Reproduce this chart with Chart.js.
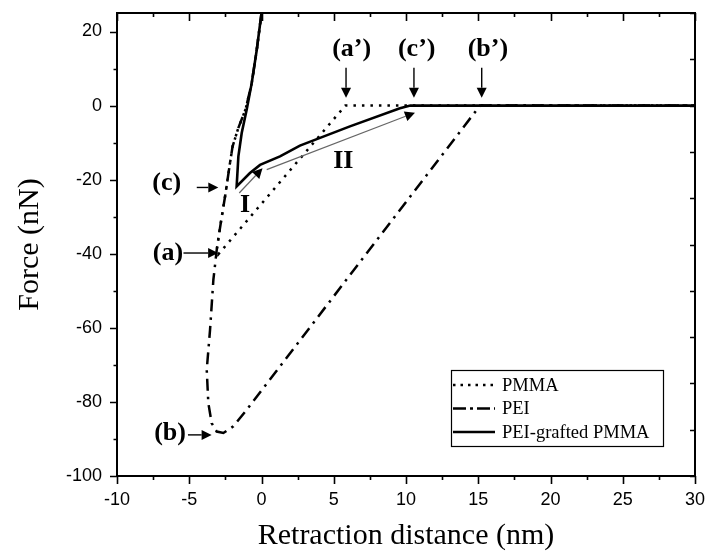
<!DOCTYPE html>
<html>
<head>
<meta charset="utf-8">
<script src="https://cdn.jsdelivr.net/npm/chart.js@4.4.1/dist/chart.umd.min.js"></script>
<style>
  html, body { margin: 0; padding: 0; background: #fff; }
  #wrap { width: 708px; height: 552px; }
</style>
</head>
<body>
<div id="wrap"><canvas id="chart" width="708" height="552"></canvas></div>
<script>
// curve data (nm, nN)
const pmmaX = [0.0, -0.33, -0.68, -1.1, -1.6, -2.0, -2.2, -2.5, -2.75, -2.95, -3.1, -3.0, 5.8, 10.3, 15, 20, 25, 30];
const pmmaY = [25, 15, 6, -1, -6, -11, -16, -24, -30, -35, -39, -40.2, 0, 0, 0, 0, 0, 0];

const peiX = [0.0, -0.33, -0.68, -1.1, -1.6, -2.0, -2.2, -2.5, -2.75, -2.95, -3.1, -3.33, -3.56, -3.79, -3.68, -3.45, -3.1, -2.64, -1.95, -1.02, 15.12, 20, 25, 30];
const peiY = [25, 15, 6, -1, -6, -11, -16, -24, -30, -35, -39, -47, -60.5, -71.3, -80.3, -85.7, -88, -88.4, -86.6, -82.1, 0, 0, 0, 0];

const graftX = [0.0, -0.33, -0.68, -1.02, -1.37, -1.6, -1.72, -0.8, -0.1, 1.28, 2.66, 6.12, 9.58, 10.3, 15, 20, 25, 30];
const graftY = [25, 15, 6, -1, -7.4, -13.7, -21.8, -18.2, -16, -13.7, -10.8, -5.6, -0.7, 0, 0, 0, 0, 0];

const seriesNames = ['PMMA', 'PEI', 'PEI-grafted PMMA'];

// tick labels
const xTickValues = [-10, -5, 0, 5, 10, 15, 20, 25, 30];
const yTickValues = [-100, -80, -60, -40, -20, 0, 20];

// annotation labels, in data units
const labelText = ['(a\u2019)', '(c\u2019)', '(b\u2019)', '(c)', '(a)', '(b)', 'I', 'II'];
const labelX = [6.24, 10.74, 15.67, -6.56, -6.47, -6.33, -1.14, 5.66];
const labelY = [15.1, 15.1, 15.1, -20.9, -39.8, -88.4, -26.8, -15.1];

// arrows: start -> tip, in data units
const arrowX0 = [5.85, 10.55, 15.24, -4.48, -5.4, -5.09, -1.54, 0.36];
const arrowY0 = [10.2, 10.2, 10.2, -22.1, -39.8, -88.9, -23.6, -17.3];
const arrowX1 = [5.85, 10.55, 15.24, -2.99, -3.0, -3.45, 0.07, 10.62];
const arrowY1 = [2.1, 2.1, 2.1, -22.1, -39.8, -88.9, -16.9, -1.9];
const arrowThin = [false, false, false, false, false, false, true, true];

const pts = (xs, ys) => xs.map((x, i) => ({ x: x, y: ys[i] }));

const styles = [
  { borderDash: [2.5, 6], borderWidth: 2.5 },
  { borderDash: [12, 6, 2.5, 6], borderWidth: 2.5 },
  { borderDash: [], borderWidth: 2.6 }
];

function arrow(ctx, x0, y0, x1, y1, thin) {
  const ang = Math.atan2(y1 - y0, x1 - x0);
  const len = 10, half = 5;
  const bx = x1 - len * Math.cos(ang), by = y1 - len * Math.sin(ang);
  ctx.save();
  ctx.strokeStyle = thin ? '#666' : '#000';
  ctx.lineWidth = thin ? 1.2 : 1.4;
  ctx.beginPath();
  ctx.moveTo(x0, y0);
  ctx.lineTo(bx, by);
  ctx.stroke();
  ctx.fillStyle = '#000';
  ctx.beginPath();
  ctx.moveTo(x1, y1);
  ctx.lineTo(bx + half * Math.sin(ang), by - half * Math.cos(ang));
  ctx.lineTo(bx - half * Math.sin(ang), by + half * Math.cos(ang));
  ctx.closePath();
  ctx.fill();
  ctx.restore();
}

// frame, tick marks, annotations and legend box
const decorations = {
  id: 'decorations',
  afterDraw(chart) {
    const ctx = chart.ctx;
    const a = chart.chartArea;
    const xs = chart.scales.x, ys = chart.scales.y;
    ctx.save();
    ctx.strokeStyle = '#000';
    ctx.lineWidth = 1.6;

    // ticks
    ctx.beginPath();
    for (let v = -10; v <= 30.01; v += 2.5) {
      const px = Math.round(xs.getPixelForValue(v)) + 0.5;
      const major = Math.abs(v % 5) < 0.01;
      ctx.moveTo(px, a.bottom); ctx.lineTo(px, a.bottom + (major ? 8 : 4));
      ctx.moveTo(px, a.top); ctx.lineTo(px, a.top + (major ? 8 : 4));
    }
    for (let v = -100; v <= 25.01; v += 10) {
      const py = Math.round(ys.getPixelForValue(v)) + 0.5;
      const major = Math.abs(v % 20) < 0.01;
      ctx.moveTo(a.left, py); ctx.lineTo(a.left - (major ? 7 : 3.5), py);
    }
    for (let v = -100; v <= 25.01; v += 12.5) {
      const py = Math.round(ys.getPixelForValue(v)) + 0.5;
      ctx.moveTo(a.right, py); ctx.lineTo(a.right - 5, py);
    }
    ctx.stroke();

    ctx.lineWidth = 2;
    ctx.strokeRect(a.left, a.top, a.right - a.left, a.bottom - a.top);

    // arrows
    for (let i = 0; i < arrowX0.length; i++) {
      arrow(ctx, xs.getPixelForValue(arrowX0[i]), ys.getPixelForValue(arrowY0[i]),
        xs.getPixelForValue(arrowX1[i]), ys.getPixelForValue(arrowY1[i]), arrowThin[i]);
    }
    // labels
    ctx.fillStyle = '#000';
    ctx.font = 'bold 26px "Liberation Serif", "Times New Roman", serif';
    ctx.textAlign = 'center';
    ctx.textBaseline = 'middle';
    for (let i = 0; i < labelText.length; i++) {
      ctx.fillText(labelText[i], xs.getPixelForValue(labelX[i]), ys.getPixelForValue(labelY[i]));
    }

    // legend
    const lx = 451, ly = 370, lw = 212, lh = 76;
    ctx.fillStyle = '#fff';
    ctx.fillRect(lx, ly, lw, lh);
    ctx.strokeStyle = '#000';
    ctx.lineWidth = 1.2;
    ctx.strokeRect(lx + 0.5, ly + 0.5, lw, lh);
    ctx.font = '18.5px "Liberation Serif", "Times New Roman", serif';
    ctx.textAlign = 'left';
    ctx.fillStyle = '#000';
    const legendDash = [[2.5, 5], [13, 4, 3, 4], []];
    chart.data.datasets.forEach((ds, i) => {
      const cy = ly + 15 + i * 23.5;
      ctx.beginPath();
      ctx.setLineDash(legendDash[i]);
      ctx.lineWidth = ds.borderWidth;
      ctx.moveTo(lx + 2, cy);
      ctx.lineTo(lx + 44, cy);
      ctx.stroke();
      ctx.setLineDash([]);
      ctx.fillText(ds.label, lx + 51, cy + 1);
    });
    ctx.restore();
  }
};

function noPad(s) {
  s.paddingTop = 0; s.paddingBottom = 0; s.paddingLeft = 0; s.paddingRight = 0;
}

new Chart(document.getElementById('chart'), {
  type: 'scatter',
  data: {
    datasets: [
      { label: seriesNames[0], data: pts(pmmaX, pmmaY), order: 2 },
      { label: seriesNames[1], data: pts(peiX, peiY), order: 3 },
      { label: seriesNames[2], data: pts(graftX, graftY), order: 1 }
    ].map((d, i) => Object.assign(d, styles[i], {
      showLine: true, borderColor: '#000', pointRadius: 0, tension: 0,
      borderCapStyle: 'butt', fill: false
    }))
  },
  options: {
    responsive: false,
    animation: false,
    layout: { padding: { top: 13, right: 13, left: 0, bottom: 0 } },
    plugins: { legend: { display: false }, tooltip: { enabled: false } },
    scales: {
      x: {
        type: 'linear', min: -10, max: 30,
        border: { display: false },
        grid: { display: false, drawTicks: false },
        afterBuildTicks(s) { s.ticks = xTickValues.map(v => ({ value: v })); },
        ticks: {
          padding: 13, color: '#000',
          font: { family: '"Liberation Sans", Arial, sans-serif', size: 18 }
        },
        title: {
          display: true, text: 'Retraction distance (nm)', color: '#000',
          font: { family: '"Liberation Serif", "Times New Roman", serif', size: 30, lineHeight: 1 },
          padding: { top: 0, bottom: 1 }
        },
        afterFit(s) { s.height = 76; noPad(s); }
      },
      y: {
        type: 'linear', min: -100, max: 25,
        border: { display: false },
        grid: { display: false, drawTicks: false },
        afterBuildTicks(s) { s.ticks = yTickValues.map(v => ({ value: v })); },
        ticks: {
          padding: 15, color: '#000',
          font: { family: '"Liberation Sans", Arial, sans-serif', size: 18 }
        },
        title: {
          display: true, text: 'Force (nN)', color: '#000',
          font: { family: '"Liberation Serif", "Times New Roman", serif', size: 30, lineHeight: 1 },
          padding: { top: 15, bottom: 0 }
        },
        afterFit(s) { s.width = 117; noPad(s); }
      }
    }
  },
  plugins: [decorations]
});
</script>
</body>
</html>
